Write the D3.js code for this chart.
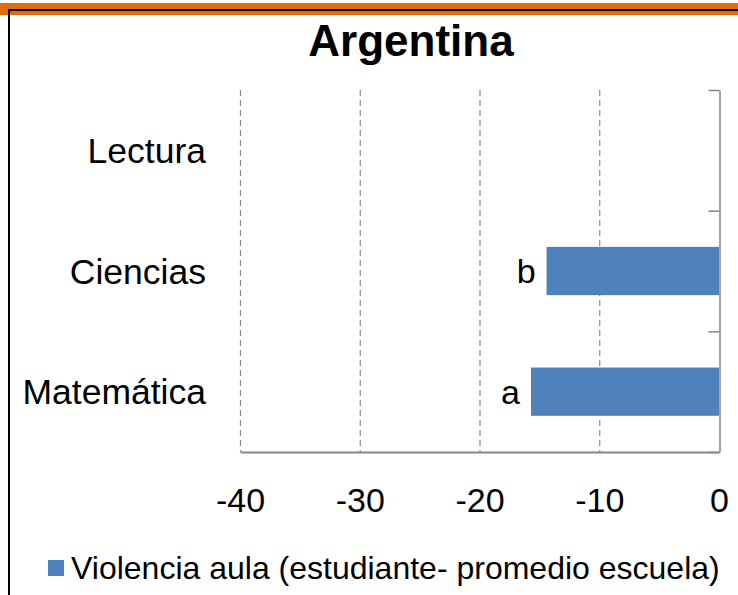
<!DOCTYPE html>
<html>
<head>
<meta charset="utf-8">
<script src="https://cdnjs.cloudflare.com/ajax/libs/d3/7.8.5/d3.min.js"></script>
<style>
  body { margin: 0; background: #fff; }
  text { font-family: "Liberation Sans", Arial, sans-serif; fill: #000; }
</style>
</head>
<body>
<div id="chart-area"></div>
<script>
// DATA
var categories = ["Lectura", "Ciencias", "Matemática"];
var values = [null, -14.4, -15.7];      // Lectura sin barra
var barLabels = ["", "b", "a"];
var xTicks = [-40, -30, -20, -10, 0];
var seriesName = "Violencia aula (estudiante- promedio escuela)";
var title = "Argentina";

var width = 738;
var height = 595;
var plot = { left: 240, right: 719, top: 90, bottom: 452 };

var svg = d3.select("#chart-area")
    .append("svg")
    .attr("width", width)
    .attr("height", height);

// frame: orange band + black border
svg.append("rect")
    .attr("x", 0).attr("y", 3)
    .attr("width", width).attr("height", 12)
    .attr("fill", "#e46c0a");
svg.append("line")
    .attr("x1", 8).attr("x2", width)
    .attr("y1", 10).attr("y2", 10)
    .attr("stroke", "#000").attr("stroke-width", 2);
svg.append("line")
    .attr("x1", 9).attr("x2", 9)
    .attr("y1", 9).attr("y2", height)
    .attr("stroke", "#000").attr("stroke-width", 2);

// TITLE
svg.append("text")
    .attr("x", 411)
    .attr("y", 56)
    .attr("text-anchor", "middle")
    .attr("font-size", "44px")
    .attr("font-weight", "bold")
    .text(title);

// SCALES
var x = d3.scaleLinear()
    .domain([-40, 0])
    .range([plot.left, plot.right]);

var y = d3.scaleBand()
    .domain(categories)
    .range([plot.top, plot.bottom])
    .paddingInner(0.6)
    .paddingOuter(0.3);

var yEdge = d3.scaleLinear()
    .domain([0, categories.length])
    .range([plot.top, plot.bottom]);

// gridlines
svg.append("g")
    .selectAll("line")
    .data(xTicks.filter((d) => d !== 0))
    .enter()
    .append("line")
    .attr("x1", (d) => x(d) + 0.5)
    .attr("x2", (d) => x(d) + 0.5)
    .attr("y1", plot.top)
    .attr("y2", plot.bottom)
    .attr("stroke", "#8c8c8c")
    .attr("stroke-width", 1.2)
    .attr("stroke-dasharray", "6,4");

// bottom axis
var xAxisGroup = svg.append("g")
    .attr("transform", "translate(0, " + plot.bottom + ")")
    .call(d3.axisBottom(x).tickValues(xTicks).tickSize(0).tickSizeOuter(0)
        .tickFormat((d) => String(d)));
xAxisGroup.select(".domain").attr("stroke", "#868686").attr("stroke-width", 2);
xAxisGroup.selectAll("text")
    .attr("y", 60)
    .attr("dy", 0)
    .attr("font-size", "34px")
    .attr("font-family", "'Liberation Sans', Arial, sans-serif")
    .attr("fill", "#000");

// category axis (at zero)
var yAxisGroup = svg.append("g")
    .attr("transform", "translate(" + (plot.right + 0.5) + ", 0)")
    .call(d3.axisLeft(yEdge).tickValues(d3.range(categories.length + 1)).tickSize(11).tickSizeOuter(0).tickFormat(""));
yAxisGroup.select(".domain").attr("stroke", "#868686").attr("stroke-width", 1.5);
yAxisGroup.selectAll(".tick line").attr("stroke", "#868686").attr("stroke-width", 1.5);

// category labels
svg.append("g")
    .selectAll("text")
    .data(categories)
    .enter()
    .append("text")
    .attr("x", 206)
    .attr("y", (d) => y(d) + y.bandwidth() / 2)
    .attr("dy", "0.36em")
    .attr("text-anchor", "end")
    .attr("font-size", "35.5px")
    .text((d) => d);

// BARS
var rows = categories.map((c, i) => ({ cat: c, value: values[i], label: barLabels[i] }))
    .filter((d) => d.value !== null);

svg.append("g")
    .selectAll("rect")
    .data(rows)
    .enter()
    .append("rect")
    .attr("x", (d) => x(d.value))
    .attr("y", (d) => y(d.cat))
    .attr("width", (d) => x(0) - x(d.value))
    .attr("height", y.bandwidth())
    .attr("fill", "#4f81bd");

svg.append("g")
    .selectAll("text")
    .data(rows)
    .enter()
    .append("text")
    .attr("x", (d) => x(d.value) - 11)
    .attr("y", (d) => y(d.cat) + y.bandwidth() / 2)
    .attr("dy", "0.36em")
    .attr("text-anchor", "end")
    .attr("font-size", "34px")
    .text((d) => d.label);

// LEGEND
svg.append("rect")
    .attr("x", 48).attr("y", 560)
    .attr("width", 16).attr("height", 16)
    .attr("fill", "#4f81bd");
svg.append("text")
    .attr("x", 71)
    .attr("y", 579)
    .attr("font-size", "32px")
    .text(seriesName);
</script>
</body>
</html>
